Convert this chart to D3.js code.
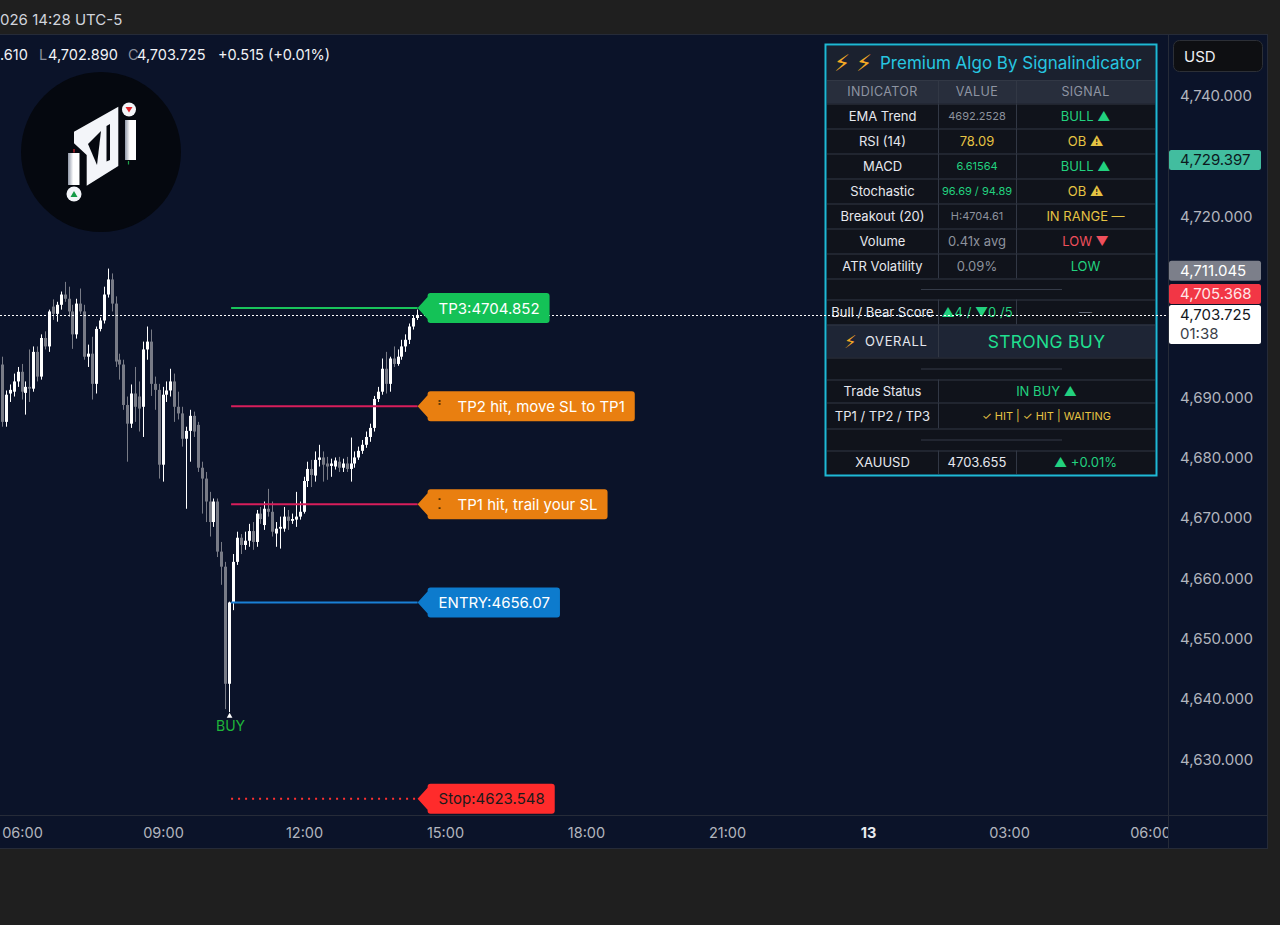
<!DOCTYPE html>
<html>
<head>
<meta charset="utf-8">
<script src="https://cdn.jsdelivr.net/npm/d3@7"></script>
<style>
html, body { margin: 0; padding: 0; background: #1f1f1f; overflow: hidden; }
svg { display: block; }
</style>
</head>
<body>
<script>
// ---- data ----
const firstBar = "2026-03-12 05:30";   // 5 minute bars
const barMinutes = 5;
// [open, high, low, close]
const ohlc = [
  [4696.0,4700.1,4692.7,4695.1],[4695.5,4696.8,4685.2,4686.0],[4686.0,4691.2,4685.2,4690.5],[4690.7,4692.2,4689.3,4691.3],
  [4691.0,4694.0,4690.2,4692.7],[4692.7,4695.1,4691.8,4694.3],[4694.3,4695.6,4689.7,4691.0],[4690.8,4692.7,4687.2,4691.8],
  [4691.8,4698.0,4689.3,4691.5],[4691.5,4698.5,4691.0,4697.6],[4697.6,4698.5,4692.7,4693.5],[4693.5,4700.5,4693.0,4699.9],
  [4699.9,4701.0,4698.0,4698.5],[4698.5,4704.6,4697.6,4704.3],[4705.1,4706.3,4702.9,4703.9],[4703.9,4705.9,4702.6,4705.4],
  [4705.4,4707.6,4704.6,4707.1],[4707.1,4709.2,4705.9,4706.4],[4706.4,4708.4,4703.4,4704.3],[4704.3,4705.4,4698.1,4700.5],
  [4700.5,4706.4,4699.8,4705.6],[4705.6,4708.1,4703.9,4704.3],[4704.3,4705.4,4696.3,4696.8],[4696.8,4698.8,4695.1,4697.3],
  [4697.3,4700.1,4689.7,4692.3],[4692.3,4701.8,4690.7,4701.4],[4701.4,4703.3,4701.0,4702.8],[4702.8,4708.4,4702.3,4707.1],
  [4707.1,4711.4,4706.6,4709.6],[4709.6,4710.6,4704.3,4705.6],[4705.6,4706.8,4695.1,4696.0],[4696.3,4697.3,4693.0,4695.5],
  [4695.5,4696.3,4688.0,4688.8],[4688.8,4690.2,4679.4,4685.7],[4685.7,4692.2,4685.0,4690.7],[4690.7,4695.1,4686.0,4688.5],
  [4690.2,4692.7,4684.4,4688.2],[4688.5,4699.3,4683.5,4698.0],[4698.0,4701.8,4696.3,4699.3],[4699.3,4701.3,4690.3,4692.3],
  [4692.3,4693.5,4688.0,4691.3],[4691.3,4692.3,4676.6,4678.9],[4678.9,4691.8,4676.1,4690.5],[4690.5,4692.7,4689.3,4691.2],
  [4691.2,4694.8,4690.2,4692.7],[4692.7,4694.0,4686.0,4688.5],[4688.5,4691.0,4686.4,4687.4],[4687.4,4688.5,4681.9,4683.2],
  [4683.2,4685.2,4671.6,4684.5],[4684.5,4688.0,4679.4,4687.0],[4687.0,4687.7,4683.5,4684.4],[4685.5,4686.0,4677.7,4678.4],
  [4678.4,4679.4,4670.8,4676.6],[4676.6,4677.7,4669.4,4672.8],[4672.8,4674.4,4667.0,4669.4],[4669.4,4673.3,4668.6,4672.8],
  [4672.8,4673.3,4663.6,4664.5],[4664.5,4666.1,4659.0,4662.0],[4662.0,4662.8,4638.4,4642.6],[4642.6,4656.2,4637.9,4656.07],
  [4656.07,4664.1,4654.8,4662.8],[4662.8,4667.8,4662.3,4666.8],[4666.8,4667.4,4664.1,4665.6],[4665.6,4667.8,4664.8,4666.3],
  [4666.3,4669.1,4665.3,4667.9],[4667.9,4669.4,4664.8,4666.1],[4666.1,4671.4,4665.3,4670.8],[4670.8,4671.9,4669.1,4669.9],
  [4668.9,4672.8,4668.1,4671.6],[4671.6,4674.9,4670.3,4671.1],[4671.1,4672.8,4667.0,4667.8],[4667.5,4669.4,4665.3,4668.3],
  [4668.3,4670.3,4665.0,4668.6],[4668.3,4671.9,4667.8,4670.3],[4670.3,4671.4,4668.1,4669.6],[4669.6,4670.8,4669.1,4669.9],
  [4669.8,4674.4,4668.6,4670.3],[4670.3,4672.8,4669.8,4671.1],[4671.1,4676.9,4670.8,4676.2],[4676.2,4679.4,4675.2,4678.2],
  [4678.2,4679.7,4675.2,4677.2],[4677.1,4681.1,4676.1,4679.7],[4679.7,4682.2,4678.6,4680.1],[4680.1,4681.1,4676.1,4678.9],
  [4679.1,4680.2,4676.4,4678.6],[4678.7,4679.9,4676.9,4679.1],[4678.6,4680.1,4678.1,4679.6],[4679.4,4680.2,4677.7,4678.4],
  [4678.4,4679.9,4677.7,4679.1],[4679.1,4680.2,4677.7,4678.2],[4678.2,4683.4,4676.1,4679.1],[4679.1,4681.1,4678.4,4680.1],
  [4680.1,4681.9,4679.7,4681.2],[4681.2,4683.0,4680.7,4682.2],[4682.2,4684.4,4681.7,4683.5],[4683.5,4685.7,4682.7,4685.0],
  [4685.0,4690.3,4684.4,4689.8],[4689.8,4691.8,4689.3,4691.0],[4691.0,4696.5,4690.5,4694.8],[4694.8,4697.6,4690.7,4692.3],
  [4692.3,4696.8,4691.0,4696.5],[4696.5,4698.5,4695.1,4695.6],[4695.6,4698.0,4695.3,4696.8],[4696.8,4699.6,4696.3,4698.5],
  [4698.5,4700.5,4697.6,4699.6],[4699.6,4702.3,4698.9,4701.8],[4701.8,4703.6,4701.3,4703.21],[4703.21,4704.61,4702.89,4703.725]
];
const buyBar = 59;

const levelNames  = ["TP3", "TP2", "TP1", "ENTRY", "Stop"];
const levelPrices = [4704.852, 4688.592, 4672.331, 4656.07, 4623.548];
const levelTexts  = ["TP3:4704.852", "TP2 hit, move SL to TP1", "TP1 hit, trail your SL", "ENTRY:4656.07", "Stop:4623.548"];

const priceTicks = [4630, 4640, 4650, 4660, 4670, 4680, 4690, 4700, 4710, 4720, 4730, 4740];
const timeTicks = ["2026-03-12 06:00", "2026-03-12 09:00", "2026-03-12 12:00", "2026-03-12 15:00",
  "2026-03-12 18:00", "2026-03-12 21:00", "2026-03-13 00:00", "2026-03-13 03:00", "2026-03-13 06:00"];

const tagPrices = [4729.397, 4711.045, 4705.368, 4703.725];
const countdown = "01:38";
const topText = "026 14:28 UTC-5";
const legendParts = [".610", "L", "4,702.890", "C", "4,703.725", "+0.515 (+0.01%)"];

const tableTitle = "Premium Algo By Signalindicator";
const tableHeader = ["INDICATOR", "VALUE", "SIGNAL"];
const indicatorNames = ["EMA Trend", "RSI (14)", "MACD", "Stochastic", "Breakout (20)", "Volume", "ATR Volatility"];
const indicatorValues = ["4692.2528", "78.09", "6.61564", "96.69 / 94.89", "H:4704.61", "0.41x avg", "0.09%"];
const indicatorSignals = ["BULL ▲", "OB ⚠", "BULL ▲", "OB ⚠", "IN RANGE —", "LOW ▼", "LOW"];
const scoreRow = ["Bull / Bear Score", "▲4 / ▼0 /5", "—"];
const overallRow = ["OVERALL", "STRONG BUY"];
const tradeRow = ["Trade Status", "IN BUY ▲"];
const tpRow = ["TP1 / TP2 / TP3", "✓ HIT | ✓ HIT | WAITING"];
const symbolRow = ["XAUUSD", "4703.655", "▲ +0.01%"];

// ---- setup ----
const FONT = "Inter, 'DejaVu Sans', sans-serif";
const GREEN = "#22d17f", YELLOW = "#e6c343", RED = "#ef4f5c", GREY = "#8d929d", WHITE = "#e6e8ee";
const NAVY = "#0b1329";
const plotRight = 1168, plotTop = 34, plotBottom = 815;

const parseT = d3.timeParse("%Y-%m-%d %H:%M");
const t0 = parseT(firstBar);
const bars = ohlc.map((d, i) => ({ t: d3.timeMinute.offset(t0, i * barMinutes), o: d[0], h: d[1], l: d[2], c: d[3] }));

const x = d3.scaleTime()
  .domain([parseT("2026-03-12 06:00"), parseT("2026-03-13 06:00")])
  .range([22, 1150]);
const y = d3.scaleLinear().domain([4630, 4740]).range([759.8, 96]);

const svg = d3.select("body").append("svg")
  .attr("width", 1280).attr("height", 925)
  .style("font-family", FONT);

svg.append("rect").attr("width", 1280).attr("height", 925).attr("fill", "#1f1f1f");
svg.append("rect").attr("x", 0).attr("y", plotTop).attr("width", 1268).attr("height", 815).attr("fill", NAVY);

const defs = svg.append("defs");
defs.append("clipPath").attr("id", "plotClip").append("rect")
  .attr("x", 0).attr("y", plotTop).attr("width", plotRight).attr("height", plotBottom - plotTop);
// in the axis group's own (translated) coordinates
defs.append("clipPath").attr("id", "timeClip").append("rect")
  .attr("x", 0).attr("y", 0).attr("width", plotRight).attr("height", 34);

// frame lines
const frame = svg.append("g").attr("stroke", "#262b38").attr("stroke-width", 1);
frame.append("line").attr("x1", 0).attr("x2", 1268).attr("y1", 34.5).attr("y2", 34.5);
frame.append("line").attr("x1", 0).attr("x2", 1268).attr("y1", 815.5).attr("y2", 815.5);
frame.append("line").attr("x1", 0).attr("x2", 1268).attr("y1", 848.5).attr("y2", 848.5);
frame.append("line").attr("x1", 1168.5).attr("x2", 1168.5).attr("y1", 34).attr("y2", 849);
frame.append("line").attr("x1", 1267.5).attr("x2", 1267.5).attr("y1", 34).attr("y2", 849);

// top bar + legend
svg.append("text").attr("x", 0).attr("y", 19).attr("dominant-baseline", "central")
  .attr("font-size", 15).attr("fill", "#d1d4dc").text(topText);

const legendX = [0, 39, 48, 128, 137, 218];
const legend = svg.append("text").attr("y", 54).attr("dominant-baseline", "central").attr("font-size", 14.5);
legendParts.forEach((p, i) => {
  legend.append("tspan").attr("x", legendX[i])
    .attr("fill", (p === "L" || p === "C") ? "#8a8f9c" : "#f0f2f6").text(p);
});

// logo
const logo = svg.append("g");
logo.append("circle").attr("cx", 101).attr("cy", 152).attr("r", 80).attr("fill", "#05080f");
const lg = defs.append("linearGradient").attr("id", "barGrad");
lg.append("stop").attr("offset", "0").attr("stop-color", "#8e96a6");
lg.append("stop").attr("offset", "0.45").attr("stop-color", "#ffffff");
lg.append("stop").attr("offset", "1").attr("stop-color", "#ffffff");
logo.append("path").attr("d", "M74,131.7 L118.3,106.7 L118.3,166 L86.7,185.7 L86.7,155 L74,143.3 Z").attr("fill", "#f3f5f9");
logo.append("path").attr("d", "M88,144 L101,131 L97,165 Z").attr("fill", "#05080f");
logo.append("path").attr("d", "M106.5,126 L110,124 L110,160 L106.5,161.5 Z").attr("fill", "#05080f");
logo.append("rect").attr("x", 68).attr("y", 153).attr("width", 11.5).attr("height", 32).attr("fill", "url(#barGrad)");
logo.append("rect").attr("x", 125).attr("y", 120).attr("width", 11).attr("height", 40).attr("fill", "url(#barGrad)");
logo.append("line").attr("x1", 74).attr("x2", 74).attr("y1", 149).attr("y2", 152.5).attr("stroke", "#e0242c").attr("stroke-width", 1.2);
logo.append("line").attr("x1", 128.5).attr("x2", 128.5).attr("y1", 161).attr("y2", 164.5).attr("stroke", "#1fa34a").attr("stroke-width", 1.2);
logo.append("circle").attr("cx", 129).attr("cy", 109.5).attr("r", 7).attr("fill", "#f3f5f9");
logo.append("path").attr("d", "M125.5,107 L132.5,107 L129,112.5 Z").attr("fill", "#e0242c");
logo.append("circle").attr("cx", 74).attr("cy", 194).attr("r", 7.5).attr("fill", "#f3f5f9");
logo.append("path").attr("d", "M70.5,197 L77.5,197 L74,191 Z").attr("fill", "#159a47");

// ---- candles ----
const plot = svg.append("g").attr("clip-path", "url(#plotClip)");
const candle = plot.append("g").selectAll("g").data(bars).join("g");
const up = d => d.c >= d.o;
const cx = d => Math.round(x(d.t) - 1.5);
candle.append("rect")
  .attr("x", d => cx(d) + 1).attr("width", 1)
  .attr("y", d => y(d.h)).attr("height", d => Math.max(1, y(d.l) - y(d.h)))
  .attr("fill", d => up(d) ? "#ffffff" : "#787b86");
candle.append("rect")
  .attr("x", d => cx(d)).attr("width", 3)
  .attr("y", d => y(Math.max(d.o, d.c)))
  .attr("height", d => Math.max(1, Math.abs(y(d.o) - y(d.c))))
  .attr("fill", d => up(d) ? "#ffffff" : "#787b86");

// ---- trade levels ----
const buy = bars[buyBar];
const lastBar = bars[bars.length - 1];
const tipX = x(lastBar.t);
const lineStart = x(buy.t) + 1.5;
const levelLine = ["#19c45b", "#d81e5b", "#d81e5b", "#1a80d6", "#ff3030"];
const levelTag = ["#14c257", "#e97f10", "#e97f10", "#0d7bcd", "#ff2b2b"];
const levelInk = ["#ffffff", "#ffffff", "#ffffff", "#ffffff", "#1b1b1b"];

const levels = plot.append("g");
levelPrices.forEach((p, i) => {
  levels.append("line")
    .attr("x1", lineStart).attr("x2", tipX)
    .attr("y1", y(p)).attr("y2", y(p))
    .attr("stroke", levelLine[i]).attr("stroke-width", 2)
    .attr("stroke-dasharray", levelNames[i] === "Stop" ? "2,5" : null);
});

// BUY marker
plot.append("path")
  .attr("transform", `translate(${x(buy.t)},${y(buy.l) + 4})`)
  .attr("d", d3.symbol(d3.symbolTriangle, 14))
  .attr("fill", "#ffffff");
plot.append("text").attr("x", x(buy.t) + 1).attr("y", y(buy.l) + 13)
  .attr("text-anchor", "middle").attr("dominant-baseline", "central")
  .attr("font-size", 14).attr("fill", "#1fb53a").text("BUY");

// ---- indicator table ----
const tbl = svg.append("g");
const TX0 = 827, TC1 = 938, TC2 = 1016, TX1 = 1155;
const rows = [
  { kind: "title", h: 34 },
  { kind: "header", h: 23.5 },
  ...indicatorNames.map((n, i) => ({ kind: "ind", h: 25, i })),
  { kind: "sep", h: 21 },
  { kind: "score", h: 25 },
  { kind: "overall", h: 33 },
  { kind: "sep", h: 22 },
  { kind: "trade", h: 23 },
  { kind: "tp", h: 26 },
  { kind: "sep", h: 22 },
  { kind: "symbol", h: 23.5 }
];
const bgFor = { title: "#1b212f", header: "#282e3c", overall: "#1e2535" };
const valueSize = [11, 13, 11, 11, 11, 13, 13];
const valueColor = [GREY, YELLOW, GREEN, GREEN, GREY, GREY, GREY];
const signalColor = [GREEN, YELLOW, GREEN, YELLOW, YELLOW, RED, GREEN];

function cellText(xc, yc, txt, color, size, extra) {
  const t = tbl.append("text").attr("x", xc).attr("y", yc)
    .attr("text-anchor", "middle").attr("dominant-baseline", "central")
    .attr("font-size", size).attr("fill", color).text(txt);
  if (extra) extra(t);
  return t;
}

let yy = 46;
const m1 = (TX0 + TC1) / 2, m2 = (TC1 + TC2) / 2, m3 = (TC2 + TX1) / 2, m23 = (TC1 + TX1) / 2;
rows.forEach(r => {
  tbl.append("rect").attr("x", TX0).attr("y", yy).attr("width", TX1 - TX0).attr("height", r.h)
    .attr("fill", bgFor[r.kind] || "#10131b");
  const yc = yy + r.h / 2;
  const div = [];
  if (["header", "ind", "score", "symbol"].includes(r.kind)) div.push(TC1, TC2);
  if (["overall", "trade", "tp"].includes(r.kind)) div.push(TC1);
  div.forEach(dx => tbl.append("line").attr("x1", dx + 0.5).attr("x2", dx + 0.5)
    .attr("y1", yy).attr("y2", yy + r.h).attr("stroke", "#323845"));
  if (r.kind !== "title") {
    tbl.append("line").attr("x1", TX0).attr("x2", TX1).attr("y1", yy + 0.5).attr("y2", yy + 0.5).attr("stroke", "#323845");
  }

  if (r.kind === "title") {
    const t = tbl.append("text").attr("x", 834).attr("y", yc).attr("dominant-baseline", "central").attr("font-size", 17);
    t.append("tspan").attr("fill", "#f4a925").attr("font-family", "'DejaVu Sans'").attr("font-size", 23).text("⚡");
    t.append("tspan").attr("x", 856).attr("fill", "#f4a925").attr("font-family", "'DejaVu Sans'").attr("font-size", 23).text("⚡");
    t.append("tspan").attr("x", 880).attr("fill", "#27c6e0").text(tableTitle);
  } else if (r.kind === "header") {
    [m1, m2, m3].forEach((mx, k) => cellText(mx, yc, tableHeader[k], "#8e94a2", 12.5, t => t.attr("letter-spacing", 0.4)));
  } else if (r.kind === "ind") {
    cellText(m1, yc, indicatorNames[r.i], WHITE, 13);
    cellText(m2, yc, indicatorValues[r.i], valueColor[r.i], valueSize[r.i]);
    cellText(m3, yc, indicatorSignals[r.i], signalColor[r.i], 13);
  } else if (r.kind === "sep") {
    tbl.append("line").attr("x1", 921).attr("x2", 1062).attr("y1", yc + 0.5).attr("y2", yc + 0.5).attr("stroke", "#353b48");
  } else if (r.kind === "score") {
    cellText(m1, yc, scoreRow[0], WHITE, 13);
    cellText(m2, yc, scoreRow[1], GREEN, 13);
    cellText(m3, yc, scoreRow[2], "#5d6270", 13);
  } else if (r.kind === "overall") {
    const t = tbl.append("text").attr("x", 844).attr("y", yc).attr("dominant-baseline", "central").attr("font-size", 13);
    t.append("tspan").attr("fill", "#f4a925").attr("font-family", "'DejaVu Sans'").attr("font-size", 18).text("⚡");
    t.append("tspan").attr("x", 865).attr("fill", WHITE).attr("letter-spacing", 0.6).text(overallRow[0]);
    cellText(m23, yc, overallRow[1], "#20df8f", 17.5, t => t.attr("letter-spacing", 0.3));
  } else if (r.kind === "trade") {
    cellText(m1, yc, tradeRow[0], WHITE, 13);
    cellText(m23, yc, tradeRow[1], GREEN, 13);
  } else if (r.kind === "tp") {
    cellText(m1, yc, tpRow[0], WHITE, 13);
    cellText(m23, yc, tpRow[1], YELLOW, 11);
  } else if (r.kind === "symbol") {
    cellText(m1, yc, symbolRow[0], WHITE, 13);
    cellText(m2, yc, symbolRow[1], WHITE, 13);
    cellText(m3, yc, symbolRow[2], GREEN, 13);
  }
  yy += r.h;
});
tbl.append("rect").attr("x", 825.5).attr("y", 44.5).attr("width", 331).attr("height", 431)
  .attr("fill", "none").attr("stroke", "#1fb9d4").attr("stroke-width", 2);

// current price dotted line (over table)
svg.append("line").attr("x1", 0).attr("x2", plotRight)
  .attr("y1", Math.round(y(lastBar.c)) + 0.5).attr("y2", Math.round(y(lastBar.c)) + 0.5)
  .attr("stroke", "#ffffff").attr("stroke-width", 1).attr("stroke-dasharray", "2,2");

// level tags
const tags = svg.append("g");
levelPrices.forEach((p, i) => {
  const cy = y(p), left = tipX + 10, top = cy - 15, bot = cy + 15;
  const g = tags.append("g");
  const path = g.append("path").attr("fill", levelTag[i]);
  const hasGlyph = (i === 1 || i === 2);
  const tx = hasGlyph ? left + 30 : left + 11;
  const t = g.append("text").attr("x", tx).attr("y", cy).attr("dominant-baseline", "central")
    .attr("font-size", 15).attr("fill", levelInk[i]).text(levelTexts[i]);
  if (hasGlyph) {
    g.append("rect").attr("x", left + 11).attr("y", cy - 6).attr("width", 2).attr("height", 1.5).attr("fill", "#3a2400");
    g.append("rect").attr("x", left + 11).attr("y", cy + (i === 2 ? 3 : -3)).attr("width", 2).attr("height", 1.5).attr("fill", "#3a2400");
  }
  const right = tx + t.node().getComputedTextLength() + 10;
  const r = 3;
  path.attr("d", `M${tipX},${cy} L${left},${cy - 11} L${left},${top + r} Q${left},${top} ${left + r},${top}
    L${right - r},${top} Q${right},${top} ${right},${top + r} L${right},${bot - r} Q${right},${bot} ${right - r},${bot}
    L${left + r},${bot} Q${left},${bot} ${left},${bot - r} L${left},${cy + 11} Z`);
});

// ---- price tags on the axis (stacked so they do not overlap) ----
const tagBg = ["#42bd9f", "#7c7f8a", "#f23645", "#ffffff"];
const tagInk = ["#0d1a1e", "#ffffff", "#ffe6e8", "#131722"];
const tagBoxes = [];
let floor = Infinity;
[3, 2, 1, 0].forEach(i => {
  const cy = y(tagPrices[i]);
  const h = i === 3 ? 39 : 20;
  let top = cy - 10;
  let bottom = top + h;
  if (bottom > floor - 1) { bottom = floor - 1; top = bottom - h; }
  floor = top;
  tagBoxes[i] = { top, h };
});

// ---- axes ----
// ticks hidden under a price tag are not drawn
const visibleTicks = priceTicks.filter(p => !tagBoxes.some(b => y(p) > b.top - 7 && y(p) < b.top + b.h + 7));
const yAxis = svg.append("g").attr("transform", `translate(${plotRight},0)`)
  .call(d3.axisRight(y).tickValues(visibleTicks).tickFormat(d3.format(",.3f")).tickSize(0).tickPadding(12));
yAxis.select(".domain").remove();
yAxis.selectAll("text").attr("font-family", FONT).attr("font-size", 15).attr("fill", "#b2b5be").attr("dy", "0.3em");

const fmtTime = d => d.getHours() === 0 ? d3.timeFormat("%-d")(d) : d3.timeFormat("%H:%M")(d);
const xAxis = svg.append("g").attr("transform", `translate(0,${plotBottom})`).attr("clip-path", "url(#timeClip)")
  .call(d3.axisBottom(x).tickValues(timeTicks.map(parseT)).tickFormat(fmtTime).tickSize(0).tickPadding(13));
xAxis.select(".domain").remove();
xAxis.selectAll("text").attr("font-family", FONT).attr("font-size", 14.5)
  .attr("fill", d => d.getHours() === 0 ? "#e8eaf0" : "#b2b5be")
  .attr("font-weight", d => d.getHours() === 0 ? 700 : 400);

const axisTags = svg.append("g");
tagPrices.forEach((p, i) => {
  const b = tagBoxes[i];
  axisTags.append("rect").attr("x", 1169).attr("y", b.top).attr("width", 92).attr("height", b.h)
    .attr("rx", 2.5).attr("fill", tagBg[i]);
  axisTags.append("text").attr("x", 1180).attr("y", b.top + 10).attr("dominant-baseline", "central")
    .attr("font-size", 15).attr("fill", tagInk[i]).text(d3.format(",.3f")(p));
  if (i === 3) {
    axisTags.append("text").attr("x", 1180).attr("y", b.top + 28.5).attr("dominant-baseline", "central")
      .attr("font-size", 15).attr("fill", "#3a3e48").text(countdown);
  }
});

// currency button
svg.append("rect").attr("x", 1173.5).attr("y", 40.5).attr("width", 89).attr("height", 31).attr("rx", 6)
  .attr("fill", "#0e0f12").attr("stroke", "#2c2f36");
svg.append("text").attr("x", 1184).attr("y", 56).attr("dominant-baseline", "central")
  .attr("font-size", 15).attr("fill", "#eef0f4").text("USD");
</script>
</body>
</html>
